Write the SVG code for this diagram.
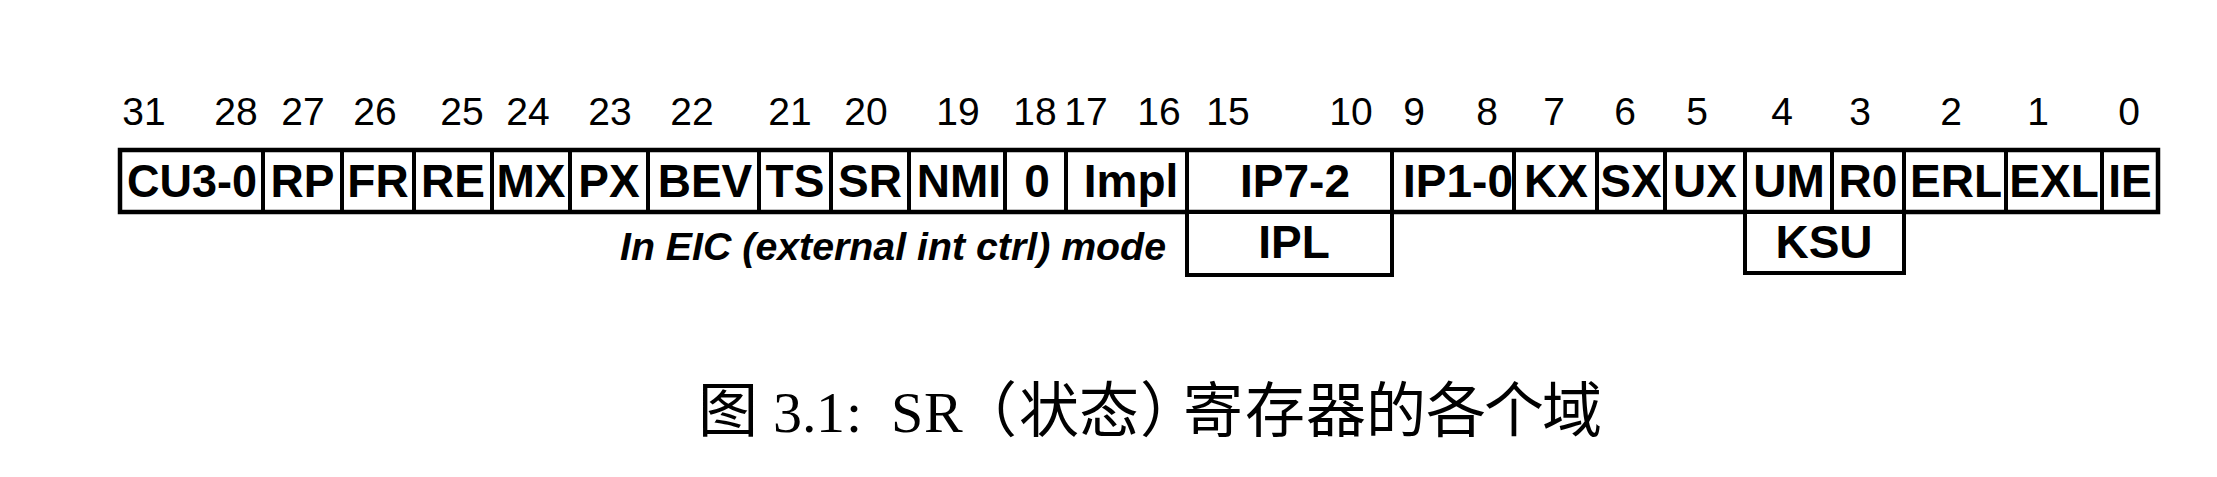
<svg xmlns="http://www.w3.org/2000/svg" width="2217" height="477" viewBox="0 0 2217 477">
<style>
  .bg { fill: #ffffff; }
  .cell { fill: #ffffff; stroke: #000000; stroke-width: 4; }
  .frame { fill: none; stroke: #000000; stroke-width: 4.5; }
  .lbl { font-family: "Liberation Sans", Arial, sans-serif; font-weight: bold; font-size: 46px; text-anchor: middle; fill: #000; }
  .bit { font-family: "Liberation Sans", Arial, sans-serif; font-size: 39px; text-anchor: middle; fill: #000; }
  .note { font-family: "Liberation Sans", Arial, sans-serif; font-weight: bold; font-style: italic; font-size: 39px; text-anchor: end; fill: #000; }
  .cap { font-family: "Noto Sans CJK SC", "Noto Sans CJK JP", sans-serif; font-size: 60px; fill: #000; }
  .capl { font-family: "Liberation Serif", "Times New Roman", serif; font-size: 58px; }
  .half { font-feature-settings: "halt" 1; }
</style>
<rect class="bg" x="0" y="0" width="2217" height="477"/>

<g id="bit-numbers">
  <text class="bit" x="144" y="125">31</text>
  <text class="bit" x="236" y="125">28</text>
  <text class="bit" x="303" y="125">27</text>
  <text class="bit" x="375" y="125">26</text>
  <text class="bit" x="462" y="125">25</text>
  <text class="bit" x="528" y="125">24</text>
  <text class="bit" x="610" y="125">23</text>
  <text class="bit" x="692" y="125">22</text>
  <text class="bit" x="790" y="125">21</text>
  <text class="bit" x="866" y="125">20</text>
  <text class="bit" x="958" y="125">19</text>
  <text class="bit" x="1035" y="125">18</text>
  <text class="bit" x="1086" y="125">17</text>
  <text class="bit" x="1159" y="125">16</text>
  <text class="bit" x="1228" y="125">15</text>
  <text class="bit" x="1351" y="125">10</text>
  <text class="bit" x="1414" y="125">9</text>
  <text class="bit" x="1487" y="125">8</text>
  <text class="bit" x="1554" y="125">7</text>
  <text class="bit" x="1625" y="125">6</text>
  <text class="bit" x="1697" y="125">5</text>
  <text class="bit" x="1782" y="125">4</text>
  <text class="bit" x="1860" y="125">3</text>
  <text class="bit" x="1951" y="125">2</text>
  <text class="bit" x="2038" y="125">1</text>
  <text class="bit" x="2129" y="125">0</text>
</g>

<g id="field-CU3-0"><rect class="cell" x="120" y="150" width="143" height="62"/><text class="lbl" x="192" y="197" textLength="130" lengthAdjust="spacingAndGlyphs">CU3-0</text></g>
<g id="field-RP"><rect class="cell" x="263" y="150" width="79" height="62"/><text class="lbl" x="302.5" y="197">RP</text></g>
<g id="field-FR"><rect class="cell" x="342" y="150" width="72" height="62"/><text class="lbl" x="378" y="197">FR</text></g>
<g id="field-RE"><rect class="cell" x="414" y="150" width="78" height="62"/><text class="lbl" x="453" y="197">RE</text></g>
<g id="field-MX"><rect class="cell" x="492" y="150" width="78" height="62"/><text class="lbl" x="531" y="197">MX</text></g>
<g id="field-PX"><rect class="cell" x="570" y="150" width="78" height="62"/><text class="lbl" x="609" y="197">PX</text></g>
<g id="field-BEV"><rect class="cell" x="648" y="150" width="111" height="62"/><text class="lbl" x="705" y="197">BEV</text></g>
<g id="field-TS"><rect class="cell" x="759" y="150" width="72" height="62"/><text class="lbl" x="795" y="197">TS</text></g>
<g id="field-SR"><rect class="cell" x="831" y="150" width="78" height="62"/><text class="lbl" x="870" y="197">SR</text></g>
<g id="field-NMI"><rect class="cell" x="909" y="150" width="96" height="62"/><text class="lbl" x="959" y="197">NMI</text></g>
<g id="field-0"><rect class="cell" x="1005" y="150" width="61" height="62"/><text class="lbl" x="1037" y="197">0</text></g>
<g id="field-Impl"><rect class="cell" x="1066" y="150" width="121" height="62"/><text class="lbl" x="1131" y="197">Impl</text></g>
<g id="field-IP7-2"><rect class="cell" x="1187" y="150" width="205" height="62"/><text class="lbl" x="1295" y="197">IP7-2</text></g>
<g id="field-IP1-0"><rect class="cell" x="1392" y="150" width="122" height="62"/><text class="lbl" x="1458" y="197">IP1-0</text></g>
<g id="field-KX"><rect class="cell" x="1514" y="150" width="83" height="62"/><text class="lbl" x="1556" y="197">KX</text></g>
<g id="field-SX"><rect class="cell" x="1597" y="150" width="68" height="62"/><text class="lbl" x="1631" y="197">SX</text></g>
<g id="field-UX"><rect class="cell" x="1665" y="150" width="80" height="62"/><text class="lbl" x="1705" y="197">UX</text></g>
<g id="field-UM"><rect class="cell" x="1745" y="150" width="87" height="62"/><text class="lbl" x="1789" y="197">UM</text></g>
<g id="field-R0"><rect class="cell" x="1832" y="150" width="72" height="62"/><text class="lbl" x="1868" y="197">R0</text></g>
<g id="field-ERL"><rect class="cell" x="1904" y="150" width="102" height="62"/><text class="lbl" x="1956" y="197">ERL</text></g>
<g id="field-EXL"><rect class="cell" x="2006" y="150" width="96" height="62"/><text class="lbl" x="2054" y="197">EXL</text></g>
<g id="field-IE"><rect class="cell" x="2102" y="150" width="56" height="62"/><text class="lbl" x="2130" y="197">IE</text></g>

<g id="register-frame"><rect class="frame" x="120" y="150" width="2038" height="62"/></g>

<g id="field-IPL"><rect class="cell" x="1187" y="212" width="205" height="63"/><text class="lbl" x="1294" y="258">IPL</text></g>
<g id="field-KSU"><rect class="cell" x="1745" y="212" width="159" height="61"/><text class="lbl" x="1824" y="258">KSU</text></g>

<g id="eic-note"><text class="note" x="1166" y="260" textLength="546" lengthAdjust="spacingAndGlyphs">In EIC (external int ctrl) mode</text></g>

<g id="caption">
  <text class="cap" y="432"><tspan x="698">图</tspan><tspan class="capl" x="773">3</tspan><tspan class="capl" x="802">.</tspan><tspan class="capl" x="816">1</tspan><tspan class="capl" x="846">:</tspan><tspan class="capl" x="891">S</tspan><tspan class="capl" x="924">R</tspan><tspan class="half" x="987">（</tspan><tspan x="1019">状</tspan><tspan x="1079">态</tspan><tspan class="half" x="1140">）</tspan><tspan x="1183">寄</tspan><tspan x="1245">存</tspan><tspan x="1306">器</tspan><tspan x="1366">的</tspan><tspan x="1426">各</tspan><tspan x="1484">个</tspan><tspan x="1542">域</tspan></text>
</g>
</svg>
